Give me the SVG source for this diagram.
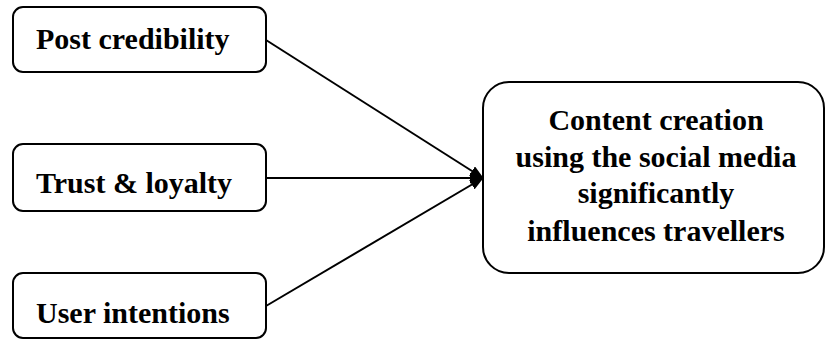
<svg xmlns="http://www.w3.org/2000/svg" width="826" height="339" viewBox="0 0 826 339">
<style>
.box{fill:#fff;stroke:#000;stroke-width:2}
.t{font-family:'Liberation Serif','Times New Roman',serif;font-weight:700;font-size:30px;fill:#000}
.c{stroke:#000;stroke-width:2;fill:none}
</style>
<defs>
<marker id="ah" markerWidth="14" markerHeight="11" refX="13" refY="5.5" orient="auto" markerUnits="userSpaceOnUse">
<path d="M0,0 L14,5.5 L0,11 Z" fill="#000"/>
</marker>
</defs>
<rect width="826" height="339" fill="#fff"/>
<g id="n1"><rect class="box" x="13" y="7" width="253" height="65" rx="10"/><text class="t" x="36" y="49">Post credibility</text></g>
<g id="n2"><rect class="box" x="13" y="144" width="253" height="67" rx="10"/><text class="t" x="36" y="193">Trust &amp; loyalty</text></g>
<g id="n3"><rect class="box" x="13" y="273" width="253" height="65" rx="10"/><text class="t" x="36" y="323">User intentions</text></g>
<g id="n4"><rect class="box" x="483" y="82" width="341" height="191" rx="26"/>
<text class="t" text-anchor="middle" x="656"><tspan x="656" y="130">Content creation</tspan><tspan x="656" y="167">using the social media</tspan><tspan x="656" y="203">significantly</tspan><tspan x="656" y="241">influences travellers</tspan></text></g>
<g id="connectors">
<line class="c" x1="266" y1="40" x2="483" y2="178" marker-end="url(#ah)"/>
<line class="c" x1="266" y1="178" x2="483" y2="178" marker-end="url(#ah)"/>
<line class="c" x1="266" y1="306" x2="483" y2="178" marker-end="url(#ah)"/>
</g>
</svg>
